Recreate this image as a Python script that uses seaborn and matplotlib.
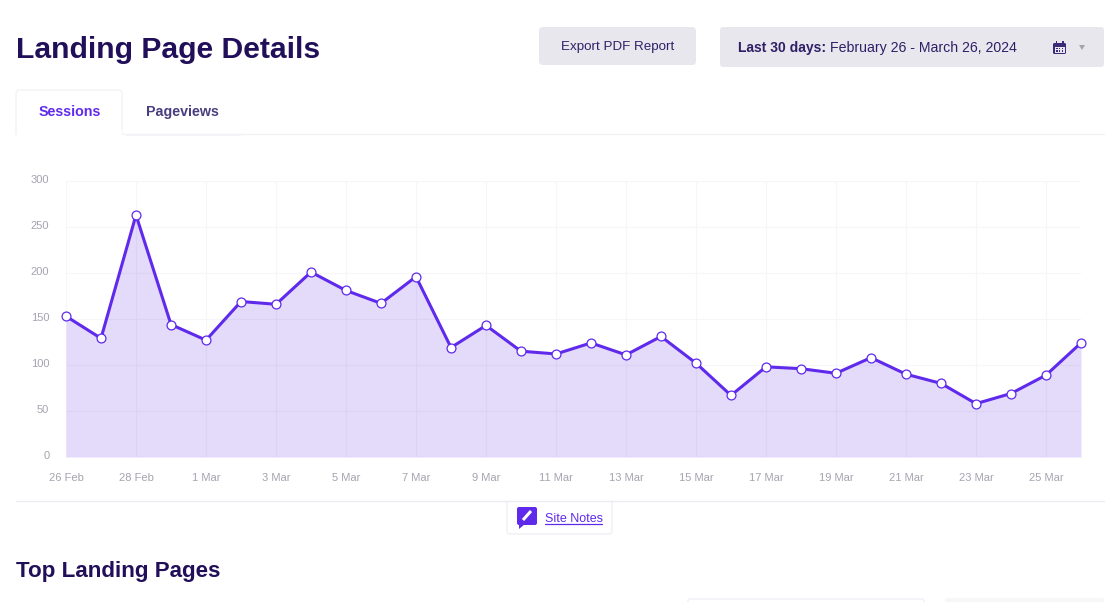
import pandas as pd
import seaborn as sns
import matplotlib.pyplot as plt
from matplotlib.patches import FancyBboxPatch, Rectangle, Polygon
from matplotlib.transforms import ScaledTranslation

# Data
sessions = [153, 129, 263, 144, 127, 169, 166, 201, 181, 167,
            196, 119, 143, 115, 112, 124, 111, 131, 102, 67,
            98, 96, 91, 108, 90, 80, 58, 69, 89, 124]
days = pd.date_range("2024-02-26", periods=30, freq="D")
y_ticks = [0, 50, 100, 150, 200, 250, 300]

PURPLE = "#5F2AEB"
DARK = "#210F59"
BUTTON = "#E9E7EE"
LINE = "#F3F2F6"
GRID = "#F6F5F9"
TICK = "#A5A3AF"

sns.set_theme(style="white")
plt.rcParams["font.family"] = ["Liberation Sans", "DejaVu Sans"]

df = pd.DataFrame({"day": days, "sessions": sessions})

fig = plt.figure(figsize=(11.16, 6.02), dpi=100, facecolor="white")
W, H = 1116, 602

# Chart area, same pixel box as the page
ax = fig.add_axes([66 / W, 1 - 457 / H, (1081 - 66) / W, (457 - 181) / H])
ax.fill_between(df["day"], df["sessions"], 0, color=PURPLE, alpha=0.17, lw=0, zorder=2)
sns.lineplot(data=df, x="day", y="sessions", ax=ax, color=PURPLE, lw=2.2,
             marker="o", markersize=6.4, markerfacecolor="white",
             markeredgecolor=PURPLE, markeredgewidth=0.9, zorder=4, clip_on=False)

ax.set_xlim(days[0], days[-1])
ax.set_ylim(0, 300)
ax.set_xlabel("")
ax.set_ylabel("")
ax.set_yticks(y_ticks)
ax.set_xticks(days[:-1:2])
ax.set_xticklabels([f"{d.day} {d.strftime('%b')}" for d in days[:-1:2]])
ax.grid(True, color=GRID, lw=0.8)
ax.set_axisbelow(True)
ax.tick_params(axis="both", length=0, labelsize=8, labelcolor=TICK)
ax.tick_params(axis="x", pad=11.7)
ax.tick_params(axis="y", pad=12)
for lab in ax.get_yticklabels():
    lab.set_transform(lab.get_transform() + ScaledTranslation(0, 1.2 / 72, fig.dpi_scale_trans))
sns.despine(ax=ax, left=True, bottom=True, top=True, right=True)

# Page furniture in pixel coordinates
page = fig.add_axes([0, 0, 1, 1], zorder=-1)
page.set_xlim(0, W)
page.set_ylim(H, 0)
page.axis("off")


def box(x0, y0, x1, y1, fc, ec="none", r=4, lw=1):
    page.add_patch(FancyBboxPatch((x0 + r, y0 + r), x1 - x0 - 2 * r, y1 - y0 - 2 * r,
                                  boxstyle=f"round,pad={r},rounding_size={r}",
                                  fc=fc, ec=ec, lw=lw))


# Heading and buttons
page.text(16, 58.5, "Landing Page Details", fontsize=21.7, fontweight="bold", color=DARK, va="baseline")
box(539, 27, 696, 65, BUTTON)
page.text(617.5, 47, "Export PDF Report", fontsize=9.6, color="#2E1F66", ha="center", va="center")
box(720, 27, 1104, 67, BUTTON, r=3)
page.text(738, 52, "Last 30 days:", fontsize=10, fontweight="bold", color="#2E1F66", va="baseline")
page.text(830, 52, "February 26 - March 26, 2024", fontsize=10.2, color="#2E1F66", va="baseline")

# Calendar icon
box(1053, 43, 1066, 54, "#3A2A78", r=1.5)
page.add_patch(Rectangle((1054.5, 46.5), 10, 6, fc=BUTTON, ec="none"))
for cx in (1056, 1058.8, 1061.6):
    for cy in (47.5, 50):
        page.add_patch(Rectangle((cx, cy), 1.5, 1.5, fc="#3A2A78", ec="none"))
page.add_patch(Rectangle((1055.5, 41), 1.6, 3, fc="#3A2A78", ec="none"))
page.add_patch(Rectangle((1062, 41), 1.6, 3, fc="#3A2A78", ec="none"))
page.add_patch(Polygon([(1079, 45), (1085, 45), (1082, 50)], fc="#A5A3AF", ec="none"))

# Tabs
page.plot([122, 1104], [134, 134], color=LINE, lw=1)
box(16, 90, 122, 150, "white", ec=LINE, r=4)
page.add_patch(Rectangle((14, 135), 112, 20, fc="white", ec="none", zorder=3))
page.plot([16, 240], [134.5, 134.5], color=LINE, lw=0.8)
page.add_patch(Rectangle((17, 130), 104.5, 6, fc="white", ec="none", zorder=3))
page.text(69.5, 116, "Sessions", fontsize=10.3, fontweight="bold", color=PURPLE, ha="center", va="baseline", zorder=4)
page.text(182, 116, "Pageviews", fontsize=10.3, fontweight="bold", color="#4A3D80", ha="center", va="baseline", zorder=4)

# Bottom rule and site notes
box(507, 495, 612, 534, "white", ec="#F0EFF4", r=3)
page.add_patch(Rectangle((500, 490), 120, 11, fc="white", ec="none"))
page.plot([16, 1104], [501, 501], color="#ECEBF1", lw=1)
box(517, 507, 537, 525, PURPLE, r=2)
page.add_patch(Polygon([(519, 524), (525, 524), (519, 529)], fc=PURPLE, ec="none"))
page.plot([523, 531], [520, 511], color="white", lw=2.2, solid_capstyle="butt")
page.text(545, 522, "Site Notes", fontsize=9, color=PURPLE, va="baseline")
page.plot([545, 602], [524, 524], color=PURPLE, lw=0.9)

page.text(16, 577, "Top Landing Pages", fontsize=16.1, fontweight="bold", color=DARK, va="baseline")

# Edges of the cut-off controls at the bottom
box(688, 599, 924, 612, "white", ec="#F0EFF4", r=2)
box(945, 598, 1104, 612, "#F7F7F9", r=2)

fig.savefig("out.png", dpi=100, facecolor="white")
